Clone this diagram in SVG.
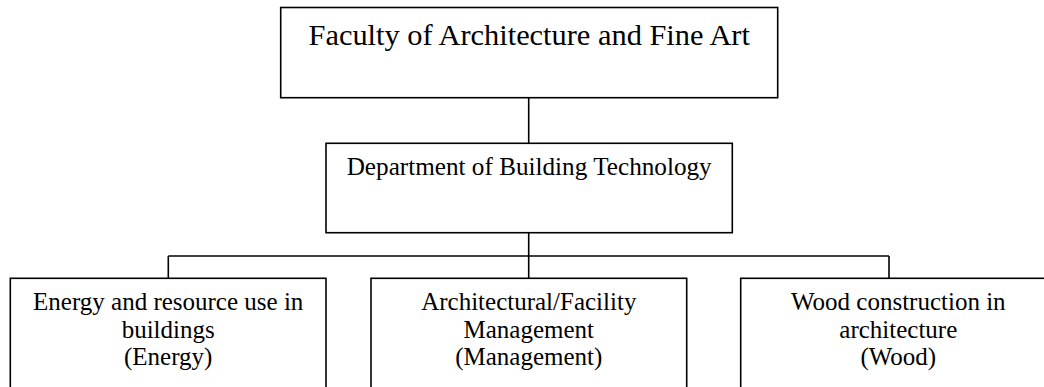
<svg xmlns="http://www.w3.org/2000/svg" width="1044" height="387" viewBox="0 0 1044 387">
<style>
.box{fill:#fff;stroke:#000;stroke-width:1.6}
.ln{fill:none;stroke:#000;stroke-width:1.6}
text{font-family:"Liberation Serif","Times New Roman",serif;fill:#000;text-anchor:middle}
.t1{font-size:30.4px}
.t2{font-size:25.2px}
.t3{font-size:25px}
</style>
<rect x="0" y="0" width="1044" height="387" fill="#fff"/>
<g id="connectors">
<line class="ln" x1="528.7" y1="98" x2="528.7" y2="143.5"/>
<line class="ln" x1="528.7" y1="233" x2="528.7" y2="278.5"/>
<line class="ln" x1="168.3" y1="256" x2="889" y2="256"/>
<line class="ln" x1="168.3" y1="256" x2="168.3" y2="278.5"/>
<line class="ln" x1="889" y1="256" x2="889" y2="278.5"/>
</g>
<g id="faculty">
<rect class="box" x="280.7" y="7.5" width="497" height="90.2"/>
<text class="t1" x="529.2" y="45">Faculty of Architecture and Fine Art</text>
</g>
<g id="department">
<rect class="box" x="326" y="143.3" width="406.3" height="89.4"/>
<text class="t2" x="529.2" y="175">Department of Building Technology</text>
</g>
<g id="energy">
<rect class="box" x="10.3" y="278.3" width="315.7" height="130"/>
<text class="t3" x="168.2" y="310">Energy and resource use in</text>
<text class="t3" x="168.2" y="337.6">buildings</text>
<text class="t3" x="168.2" y="365">(Energy)</text>
</g>
<g id="management">
<rect class="box" x="371" y="278.3" width="315.7" height="130"/>
<text class="t3" x="528.8" y="310">Architectural/Facility</text>
<text class="t3" x="528.8" y="337.6">Management</text>
<text class="t3" x="528.8" y="365">(Management)</text>
</g>
<g id="wood">
<rect class="box" x="740.7" y="278.3" width="316" height="130"/>
<text class="t3" x="898.3" y="310">Wood construction in</text>
<text class="t3" x="898.3" y="337.6">architecture</text>
<text class="t3" x="898.3" y="365">(Wood)</text>
</g>
</svg>
